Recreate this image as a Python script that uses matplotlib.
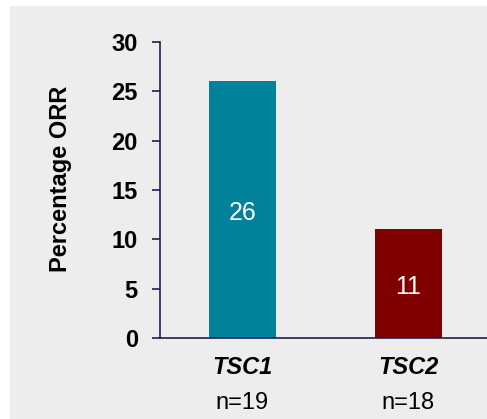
import matplotlib.pyplot as plt
from matplotlib.patches import Rectangle

# dati
categorie = ['TSC1', 'TSC2']
numerosita = ['n=19', 'n=18']
orr = [26, 11]
colori = ['#00839a', '#800000']

plt.rcParams['font.family'] = ['Liberation Sans', 'DejaVu Sans']

fig = plt.figure(figsize=(4.87, 4.19), dpi=100, facecolor='white')

# pannello grigio di sfondo
sfondo = Rectangle((10 / 487, 0), 1 - 10 / 487, 1 - 6 / 419,
                   transform=fig.transFigure, facecolor='#ededed',
                   edgecolor='none', zorder=-10)
fig.add_artist(sfondo)

ax = fig.add_axes([160 / 487, 1 - 338 / 419, 327 / 487, 296 / 419])
ax.set_facecolor('none')

pos = range(len(categorie))
ax.bar(pos, orr, width=0.404, color=colori, zorder=2)

# etichette dentro le barre
for x, v in zip(pos, orr):
    ax.annotate(str(v), xy=(x, v / 2), xytext=(0, -2.5), textcoords='offset points',
                ha='center', va='center', color='white', fontsize=18)

# etichette sotto l'asse x
for x, c, n in zip(pos, categorie, numerosita):
    ax.annotate(c, xy=(x, 0), xycoords=('data', 'axes fraction'), xytext=(0, -21),
                textcoords='offset points', ha='center', va='center',
                fontsize=17, fontweight='bold', fontstyle='italic')
    ax.annotate(n, xy=(x, 0), xycoords=('data', 'axes fraction'), xytext=(0, -47),
                textcoords='offset points', ha='center', va='center', fontsize=17)

ax.set_xlim(-0.497, 1.473)
ax.set_ylim(0, 30)
ax.set_yticks([0, 5, 10, 15, 20, 25, 30])
ax.set_xticks([])

asse = '#1e1e50'
for s in ['top', 'right']:
    ax.spines[s].set_visible(False)
for s in ['left', 'bottom']:
    ax.spines[s].set_color(asse)
    ax.spines[s].set_linewidth(1.2)
ax.tick_params(axis='y', direction='out', length=5.5, width=1.2, color=asse,
               labelsize=17, pad=10.5)
for t in ax.get_yticklabels():
    t.set_fontweight('bold')

fig.text(61 / 487, 1 - 179 / 419, 'Percentage ORR', rotation=90, ha='center',
         va='center', fontsize=17, fontweight='bold')

fig.savefig('out.png', dpi=100, facecolor=fig.get_facecolor())
